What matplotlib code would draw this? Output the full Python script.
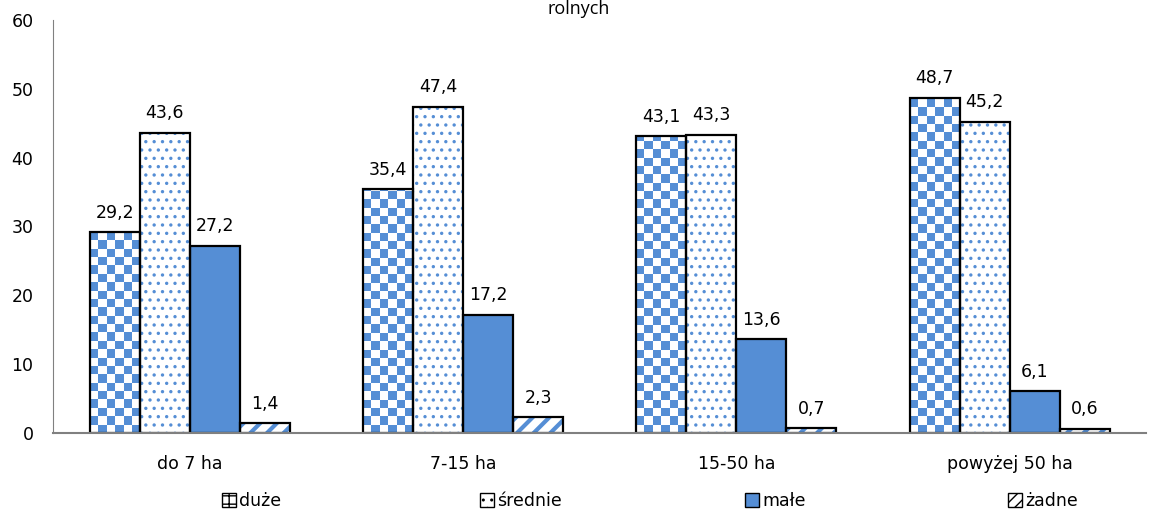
import numpy as np
import matplotlib
matplotlib.use('Agg')
import matplotlib.pyplot as plt
from matplotlib.colors import ListedColormap
from matplotlib.patches import Patch

categories = ['do 7 ha', '7-15 ha', '15-50 ha', 'powyżej 50 ha']
series_names = ['duże', 'średnie', 'małe', 'żadne']
duze = [29.2, 35.4, 43.1, 48.7]
srednie = [43.6, 47.4, 43.3, 45.2]
male = [27.2, 17.2, 13.6, 6.1]
zadne = [1.4, 2.3, 0.7, 0.6]
yticks = [0, 10, 20, 30, 40, 50, 60]

blue = '#558ED5'
plt.rcParams['font.family'] = ['DejaVu Sans']

fig = plt.figure(figsize=(11.57, 5.21), dpi=100)
ax = fig.add_axes([0.0458, 0.169, 0.945, 0.793])

x = np.arange(len(categories))
w = 0.183
offs = [-1.5 * w, -0.5 * w, 0.5 * w, 1.5 * w]
all_vals = [duze, srednie, male, zadne]

ax.set_xlim(-0.5, 3.5)
ax.set_ylim(0, 60)

# duże - szachownica (obraz przyciety do slupka)
cmap = ListedColormap(['white', blue])
px_per_unit = 0.793 * 521 / 60.0
cell_h = (w / 6 * 0.945 * 1157 / 4) / px_per_unit
bars0 = ax.bar(x + offs[0], duze, w, facecolor='white', edgecolor='none', zorder=2)
for b in bars0:
    x0 = b.get_x()
    h = b.get_height()
    rows = int(np.ceil(h / cell_h))
    board = (np.add.outer(np.arange(rows), np.arange(6)) % 2)[::-1]
    im = ax.imshow(board, cmap=cmap, extent=[x0, x0 + w, 0, rows * cell_h],
                   aspect='auto', interpolation='nearest', zorder=2.5)
    im.set_clip_path(b)

# średnie - kropki
plt.rcParams['hatch.linewidth'] = 1.2
ax.bar(x + offs[1], srednie, w, facecolor='white', edgecolor=blue, hatch='..', linewidth=0, zorder=2)
# małe - pełne
ax.bar(x + offs[2], male, w, facecolor=blue, edgecolor='none', zorder=2)
# żadne - ukośne paski
plt.rcParams['hatch.linewidth'] = 3.0
ax.bar(x + offs[3], zadne, w, facecolor='white', edgecolor=blue, hatch='//', linewidth=0, zorder=2)

# obramowania
for vals, o in zip(all_vals, offs):
    ax.bar(x + o, vals, w, facecolor='none', edgecolor='black', linewidth=1.6, zorder=3)
    for xi, v in zip(x, vals):
        ax.text(xi + o, v + 1.5, ('%.1f' % v).replace('.', ','), ha='center', va='bottom', fontsize=12.5)

ax.set_yticks(yticks)
ax.set_xticks(x)
ax.set_xticklabels(categories)
ax.tick_params(axis='both', length=0, labelsize=12.5)
ax.tick_params(axis='x', pad=16)
ax.tick_params(axis='y', pad=14)
for s in ['top', 'right']:
    ax.spines[s].set_visible(False)
ax.spines['left'].set_color('#808080')
ax.spines['bottom'].set_color('#808080')
ax.spines['bottom'].set_linewidth(1.5)
ax.spines['bottom'].set_zorder(4)

fig.text(0.5, 1 - 14 / 521, 'rolnych', ha='center', va='baseline', fontsize=13, family='Open Sans')

plt.rcParams['hatch.linewidth'] = 1.0
handles = [Patch(facecolor='white', edgecolor='black', hatch='++'),
           Patch(facecolor='white', edgecolor='black', hatch='..'),
           Patch(facecolor=blue, edgecolor='black'),
           Patch(facecolor='white', edgecolor='black', hatch='///')]
legend_x = [222, 480, 745, 1008]
for hd, name, lx in zip(handles, series_names, legend_x):
    fig.legend([hd], [name], loc='center left', bbox_to_anchor=(lx / 1157, 1 - 501 / 521),
               frameon=False, fontsize=12.5, handlelength=0.8, handleheight=0.8,
               handletextpad=0.2, borderpad=0, borderaxespad=0)

fig.savefig('out.png', dpi=100)
